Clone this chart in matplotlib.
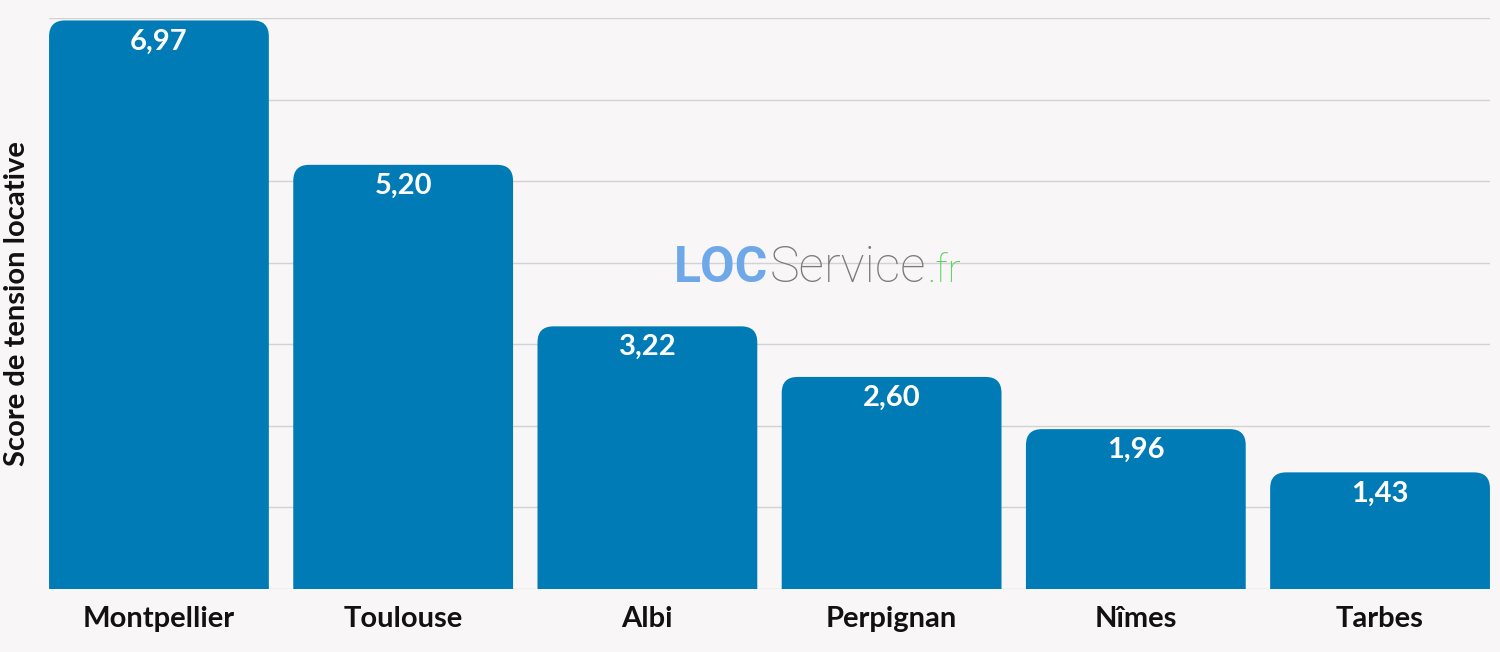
import matplotlib
matplotlib.use("Agg")
import matplotlib.pyplot as plt
from matplotlib.patches import FancyBboxPatch
from matplotlib.offsetbox import TextArea, HPacker, AnnotationBbox

villes = ["Montpellier", "Toulouse", "Albi", "Perpignan", "Nîmes", "Tarbes"]
scores = [6.97, 5.20, 3.22, 2.60, 1.96, 1.43]
etiquettes = ["6,97", "5,20", "3,22", "2,60", "1,96", "1,43"]

bleu = "#007bb6"
fond = "#f8f6f7"

plt.rcParams["font.family"] = ["Lato", "DejaVu Sans"]

fig = plt.figure(figsize=(15, 6.52), dpi=100, facecolor=fond)
ax = fig.add_axes([0.0327, 0.0966, 0.9606, 0.8758])
ax.set_facecolor(fond)

x = list(range(len(villes)))
bars = ax.bar(x, scores, width=0.9, color=bleu)

ax.set_xlim(-0.45, len(villes) - 0.55)
ax.set_ylim(0, 7)

# rounded top corners: replace each bar with a rounded box, bottom is clipped below 0
px_x = 1441 / (len(villes) - 0.1)   # pixels per x unit
px_y = 571 / 7.0                     # pixels per y unit
r = 16 / px_x
for b in bars:
    b.remove()
    patch = FancyBboxPatch((b.get_x(), -1), b.get_width(), b.get_height() + 1,
                           boxstyle=f"round,pad=0,rounding_size={r}",
                           mutation_aspect=px_x / px_y,
                           facecolor=bleu, edgecolor="none", zorder=3)
    ax.add_patch(patch)

for xi, v, lab in zip(x, scores, etiquettes):
    ax.text(xi, v - 21 / px_y, lab, ha="center", va="center", color="white",
            fontsize=21, fontweight="bold", zorder=4)

ax.set_yticks(range(0, 8))
ax.yaxis.grid(True, color="#d2d2d2", linewidth=1)
ax.set_axisbelow(True)
ax.tick_params(axis="y", left=False, labelleft=False)
ax.tick_params(axis="x", bottom=False, pad=9)
ax.set_xticks(x)
ax.set_xticklabels(villes, fontsize=21, fontweight="bold", color="#111111")
for s in ax.spines.values():
    s.set_visible(False)

fig.text(0.0113, 0.5345, "Score de tension locative", rotation=90, ha="center", va="center",
         fontsize=21, fontweight="bold", color="#111111")

# watermark
parts = [
    TextArea("LOC", textprops=dict(color="#6fa8e8", fontsize=36, fontweight="bold", family="Roboto")),
    TextArea("Service", textprops=dict(color="#7a7a7a", fontsize=36, fontweight="light", family="Roboto")),
    TextArea(".fr", textprops=dict(color="#5ccf5c", fontsize=28, fontweight="light", family="Roboto")),
]
box = HPacker(children=parts, align="baseline", pad=0, sep=1)
ab = AnnotationBbox(box, (0.545, 0.588), xycoords="figure fraction", frameon=False, zorder=1)
ax.add_artist(ab)

fig.savefig("out.png", dpi=100, facecolor=fond)
